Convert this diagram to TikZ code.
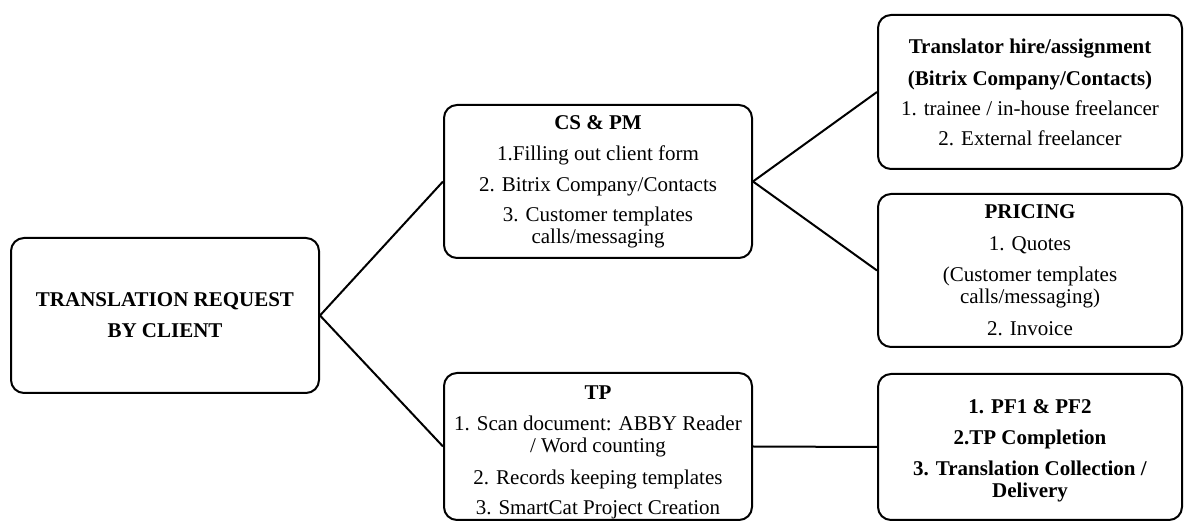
\documentclass[tikz,border=0pt]{standalone}
\usepackage{fontspec}
\setmainfont{Liberation Serif}
\begin{document}
\begin{tikzpicture}[x=1pt,y=1pt,
  txt/.style={align=center, inner sep=0pt, font=\fontsize{21}{22}\selectfont},
  box/.style={txt, draw=black, line width=2pt, rounded corners=13pt},
  link/.style={draw=black, line width=2pt}]
\useasboundingbox (0,0) rectangle (1184,522);
% y in pt = 522 - y_px
\node[box, minimum width=308pt, minimum height=155pt] (req) at (165,206.5)
  {\textbf{TRANSLATION REQUEST}\\[9pt]\textbf{BY CLIENT}};
\node[box, minimum width=308pt, minimum height=153pt] (cs) at (598,340.5)
  {\textbf{CS \& PM}\\[9pt]1.Filling out client form\\[9pt]2. Bitrix Company/Contacts\\[8pt]3. Customer templates\\calls/messaging};
\node[box, minimum width=308pt, minimum height=147pt] (tp) at (598,75.5) {};
\node[txt] (tptext) at ([yshift=-6pt]tp.center)
  {\textbf{TP}\\[9pt]1. Scan document: ABBY Reader\\/ Word counting\\[10pt]2. Records keeping templates\\[8pt]3. SmartCat Project Creation};
\node[box, minimum width=304pt, minimum height=154pt] (tr) at (1030,430)
  {\textbf{Translator hire/assignment}\\[10pt]\textbf{(Bitrix Company/Contacts)}\\[8pt]1. trainee / in-house freelancer\\[8pt]2. External freelancer};
\node[box, minimum width=304pt, minimum height=153pt] (pr) at (1030,251.5)
  {\textbf{PRICING}\\[10pt]1. Quotes\\[9pt](Customer templates\\calls/messaging)\\[10pt]2. Invoice};
\node[box, minimum width=304pt, minimum height=146pt] (pf) at (1030,75) {};
\node[txt] (pftext) at ([yshift=-4pt]pf.center)
  {\textbf{1. PF1 \& PF2}\\[9pt]\textbf{2.TP Completion}\\[9pt]\textbf{3. Translation Collection /}\\\textbf{Delivery}};
\draw[link] (req.east) -- (cs.west);
\draw[link] (req.east) -- (tp.west);
\draw[link] (cs.east) -- (tr.west);
\draw[link] (cs.east) -- (pr.west);
\draw[link] (tp.east) -- (pf.west);
\end{tikzpicture}
\end{document}
